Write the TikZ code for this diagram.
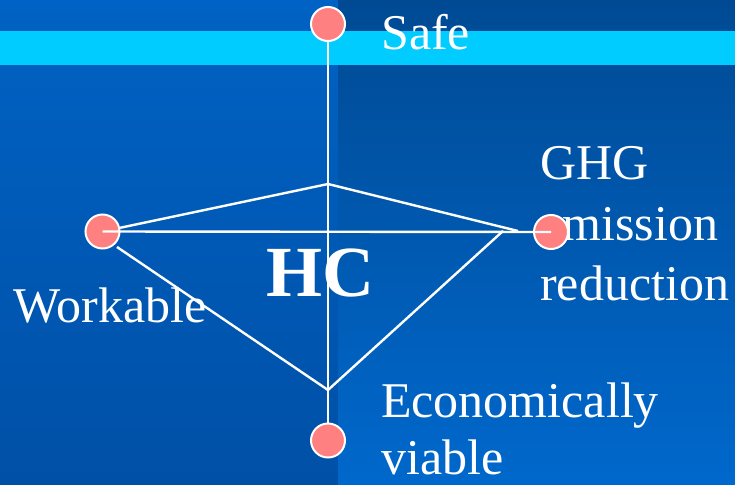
\documentclass[tikz,border=0pt]{standalone}
\usepackage{fontspec}
\setmainfont{Liberation Serif}
\definecolor{bgleftA}{HTML}{0062C4}
\definecolor{bgleftB}{HTML}{0050A6}
\definecolor{bgrightA}{HTML}{004A94}
\definecolor{bgrightB}{HTML}{0068CC}
\definecolor{band}{HTML}{00CCFF}
\definecolor{dotpink}{HTML}{FF8080}
\tikzset{
  dot/.style={circle,fill=dotpink,draw=white,line width=2pt,minimum size=34pt,inner sep=0pt},
  label/.style={anchor=base west,inner sep=0pt,text=white,font=\fontsize{50}{60}\selectfont},
  link/.style={draw=white,line width=2.4pt}
}
\begin{document}
\begin{tikzpicture}[x=1pt,y=-1pt]
\useasboundingbox (0,0) rectangle (735,484);
\shade[top color=bgleftA,bottom color=bgleftB] (0,0) rectangle (338,484);
\shade[top color=bgrightA,bottom color=bgrightB] (338,0) rectangle (735,484);
\fill[band] (0,31) rectangle (735,65);
\node[label] (safetxt) at (381,50) {Safe};
\node[label] (ghgtxt) at (540,179) {GHG};
\node[label] (emistxt) at (540,240) {emission};
\node[label] (redtxt) at (540,300) {reduction};
\node[label] (worktxt) at (13,322) {Workable};
\node[label] (econtxt) at (381,417) {Economically};
\node[label] (viatxt) at (381,474) {viable};
\node[anchor=base west,inner sep=0pt,text=white,font=\fontsize{72}{80}\selectfont\bfseries] (hc) at (266,296) {HC};
\node[dot] (safe) at (328,24) {};
\node[dot] (work) at (102.5,231.5) {};
\node[dot] (ghg) at (551,232) {};
\node[dot] (econ) at (328,440.5) {};
\coordinate (top) at (328,184);
\coordinate (bot) at (328,390);
\coordinate (upend) at (518,231);
\coordinate (lowend) at (503,231);
\coordinate (lowstart) at (117,247);
\draw[link] (safe) -- (econ);
\draw[link] (work) -- (top) -- (upend);
\draw[link] (lowstart) -- (bot) -- (lowend);
\draw[link] (work.center) -- (ghg.center);
\end{tikzpicture}
\end{document}
